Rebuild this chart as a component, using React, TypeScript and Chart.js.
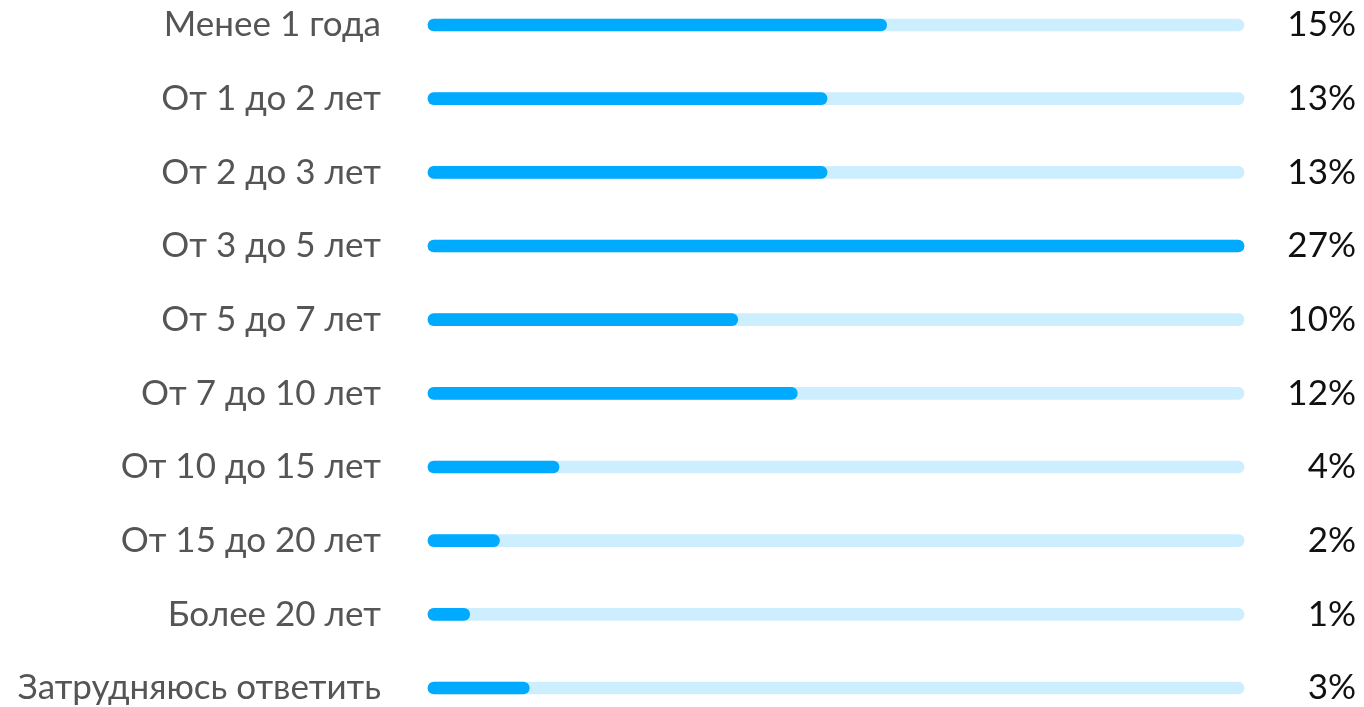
import React, { useEffect, useRef } from "react";
import { Chart, registerables } from "chart.js";

Chart.register(...registerables);

const categories = [
  "Менее 1 года",
  "От 1 до 2 лет",
  "От 2 до 3 лет",
  "От 3 до 5 лет",
  "От 5 до 7 лет",
  "От 7 до 10 лет",
  "От 10 до 15 лет",
  "От 15 до 20 лет",
  "Более 20 лет",
  "Затрудняюсь ответить",
];
const values = [15, 13, 13, 27, 10, 12, 4, 2, 1, 3];
const valueLabels = values.map((v) => `${v}%`);
const maxValue = 27;

const FONT_FAMILY = "Lato, 'Noto Sans', sans-serif";
const FONT_SIZE = 35;
const CAP = 0.2; // rounded cap extension in value units

export default function App() {
  const ref = useRef<HTMLCanvasElement | null>(null);

  useEffect(() => {
    if (!ref.current) return;
    const noPad = (scale: any, width: number) => {
      scale.width = width;
      scale.paddingTop = 0;
      scale.paddingBottom = 0;
    };

    const chart = new Chart(ref.current, {
      type: "bar",
      data: {
        labels: categories,
        datasets: [
          {
            label: "value",
            data: values.map((v) => [-CAP, v + CAP]) as any,
            backgroundColor: "#00aaff",
            borderRadius: 6,
            borderSkipped: false,
            barThickness: 12,
            grouped: false,
            clip: false,
            order: 0,
          },
          {
            label: "track",
            data: values.map(() => [-CAP, maxValue + CAP]) as any,
            backgroundColor: "#cdeefe",
            borderRadius: 6,
            borderSkipped: false,
            barThickness: 12,
            grouped: false,
            clip: false,
            order: 1,
          },
        ],
      },
      options: {
        indexAxis: "y",
        animation: false,
        responsive: false,
        maintainAspectRatio: false,
        layout: { padding: { top: 25, bottom: 707 - 688, left: 0, right: 8 } },
        plugins: { legend: { display: false }, tooltip: { enabled: false } },
        scales: {
          x: {
            display: false,
            min: -CAP,
            max: maxValue + CAP,
          },
          y: {
            position: "left",
            offset: false,
            grid: { display: false, drawTicks: false },
            border: { display: false },
            ticks: {
              padding: 47,
              color: "#555555",
              font: { family: FONT_FAMILY, size: FONT_SIZE },
            },
            afterFit: (scale: any) => noPad(scale, 428),
          },
          y2: {
            position: "right",
            type: "category",
            labels: valueLabels,
            offset: false,
            grid: { display: false, drawTicks: false },
            border: { display: false },
            ticks: {
              padding: 0,
              crossAlign: "far",
              color: "#111111",
              font: { family: FONT_FAMILY, size: FONT_SIZE },
            },
            afterFit: (scale: any) => noPad(scale, 1356 - 1244),
          },
        },
      },
    });
    return () => chart.destroy();
  }, []);

  return (
    <div style={{ position: "fixed", left: 0, top: 0, width: 1364, height: 707, background: "#fff" }}>
      <canvas ref={ref} width={1364} height={707} style={{ display: "block" }} />
    </div>
  );
}
